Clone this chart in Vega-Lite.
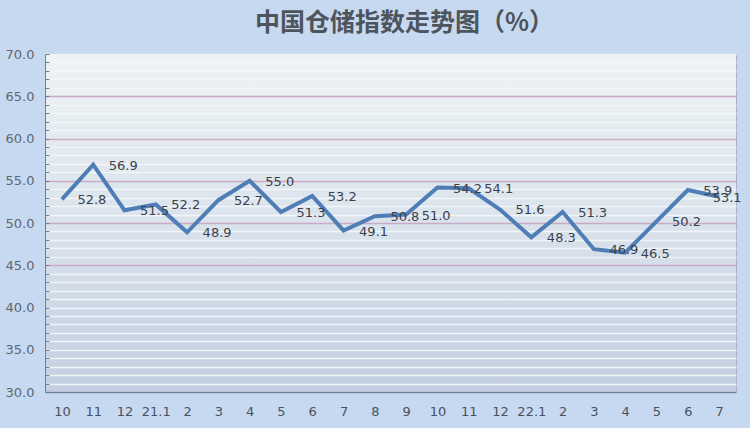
{
  "$schema": "https://vega.github.io/schema/vega-lite/v6.json",
  "width": 691,
  "height": 338,
  "autosize": {"type": "none"},
  "padding": {"left": 45, "top": 54, "right": 14, "bottom": 36},
  "background": "#c7d9f0",
  "title": {
    "text": "中国仓储指数走势图（%）",
    "fontSize": 25,
    "fontWeight": "bold",
    "color": "#4e545c",
    "font": "Noto Sans CJK SC",
    "anchor": "middle",
    "dx": 14,
    "offset": 12
  },
  "config": {
    "view": {
      "stroke": "#aab3c4",
      "strokeWidth": 1,
      "fill": {
        "gradient": "linear",
        "x1": 0, "y1": 0, "x2": 0, "y2": 1,
        "stops": [
          {"offset": 0, "color": "#eef3f4"},
          {"offset": 0.5, "color": "#dae3ec"},
          {"offset": 1, "color": "#c2cfe1"}
        ]
      }
    },
    "font": "DejaVu Sans"
  },
  "data": {
    "values": [
      {"m": "20.10", "v": 52.8},
      {"m": "20.11", "v": 56.9},
      {"m": "20.12", "v": 51.5},
      {"m": "21.1", "v": 52.2},
      {"m": "21.2", "v": 48.9},
      {"m": "21.3", "v": 52.7},
      {"m": "21.4", "v": 55.0},
      {"m": "21.5", "v": 51.3},
      {"m": "21.6", "v": 53.2},
      {"m": "21.7", "v": 49.1},
      {"m": "21.8", "v": 50.8},
      {"m": "21.9", "v": 51.0},
      {"m": "21.10", "v": 54.2},
      {"m": "21.11", "v": 54.1},
      {"m": "21.12", "v": 51.6},
      {"m": "22.1", "v": 48.3},
      {"m": "22.2", "v": 51.3},
      {"m": "22.3", "v": 46.9},
      {"m": "22.4", "v": 46.5},
      {"m": "22.5", "v": 50.2},
      {"m": "22.6", "v": 53.9},
      {"m": "22.7", "v": 53.1}
    ]
  },
  "encoding": {
    "x": {
      "field": "m",
      "type": "ordinal",
      "sort": null,
      "scale": {"type": "point", "padding": 0.54},
      "axis": {
        "title": null,
        "labelAngle": 0,
        "labelExpr": "slice(datum.value, -2) == '.1' ? datum.value : split(datum.value, '.')[1]",
        "labelFontSize": 13,
        "labelColor": "#4a5260",
        "labelPadding": 13,
        "ticks": false,
        "domainColor": "#6f7f99",
        "domainWidth": 1.5,
        "grid": false
      }
    },
    "y": {
      "field": "v",
      "type": "quantitative",
      "scale": {"domain": [30, 70], "nice": false, "zero": false},
      "axis": {
        "title": null,
        "values": [30,31,32,33,34,35,36,37,38,39,40,41,42,43,44,45,46,47,48,49,50,51,52,53,54,55,56,57,58,59,60,61,62,63,64,65,66,67,68,69,70],
        "labelExpr": "datum.value % 5 === 0 ? format(datum.value, '.1f') : ''",
        "labelFontSize": 13,
        "labelColor": "#5d6673",
        "labelPadding": 15,
        "tickSize": -4,
        "tickColor": "#6f7f99",
        "domainColor": "#6f7f99",
        "grid": true,
        "gridColor": {"condition": {"test": "datum.value % 5 === 0 && datum.value >= 45 && datum.value <= 65", "value": "#c8a3c2"}, "value": "#f4f7fa"},
        "gridWidth": 1.3,
        "gridOpacity": 0.9
      }
    }
  },
  "layer": [
    {
      "mark": {"type": "line", "color": "#4f7eb7", "strokeWidth": 4, "strokeJoin": "miter"}
    },
    {
      "transform": [{"filter": "datum.m != '22.7'"}],
      "mark": {"type": "text", "dx": 30, "dy": 1, "fontSize": 13, "color": "#3b424c"},
      "encoding": {"text": {"field": "v", "type": "quantitative", "format": ".1f"}}
    },
    {
      "transform": [{"filter": "datum.m == '22.7'"}],
      "mark": {"type": "text", "dx": 8, "dy": 1, "fontSize": 13, "color": "#3b424c"},
      "encoding": {"text": {"field": "v", "type": "quantitative", "format": ".1f"}}
    }
  ]
}
